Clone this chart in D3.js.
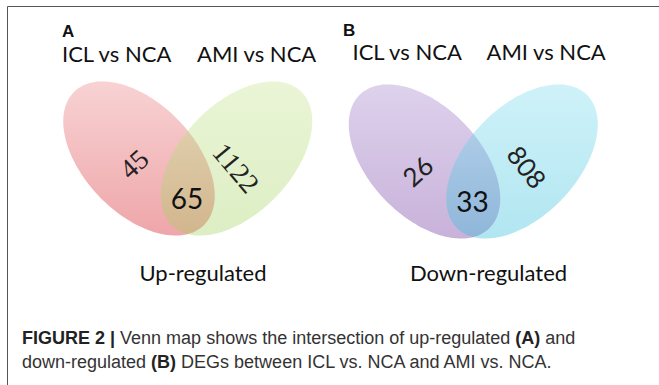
<!DOCTYPE html>
<html>
<head>
<meta charset="utf-8">
<script src="https://cdn.jsdelivr.net/npm/d3@7"></script>
<style>
  html, body { margin: 0; padding: 0; background: #fff; }
  svg { display: block; }
</style>
</head>
<body>
<svg id="fig" width="659" height="385"></svg>
<script>
// Two-set Venn diagrams of DEGs: up-regulated (A) and down-regulated (B)
const panels = ["A", "B"];
const setNames = ["ICL vs NCA", "AMI vs NCA"];
const regulation = ["Up-regulated", "Down-regulated"];
const onlyICL = [45, 26];
const shared = [65, 33];
const onlyAMI = [1122, 808];
// left set: opaque vertical gradient; right set: translucent gradient laid over it
const leftTop = ["#f8d2d3", "#ddd1ec"], leftBottom = ["#eea6a9", "#c8b1d9"];
const rightTop = ["#c4e38c", "#7fdcef"], rightBottom = ["#9fd05a", "#2fbcd9"];
const rightAlpha = [0.36, 0.38];

const svg = d3.select("#fig");
const defs = svg.append("defs");

// panel origin within the figure
const panelX = d3.scaleOrdinal().domain(panels).range([0, 285.5]);
const panelY = d3.scaleOrdinal().domain(panels).range([0, 3]);

// frame: top and left rule
svg.append("line").attr("x1", 7.5).attr("x2", 659).attr("y1", 6.5).attr("y2", 6.5)
  .attr("stroke", "#555").attr("stroke-width", 1);
svg.append("line").attr("x1", 7.5).attr("x2", 7.5).attr("y1", 6.5).attr("y2", 385)
  .attr("stroke", "#555").attr("stroke-width", 1);

// ellipse outline built from its parametric form
const rx = 93, ry = 55, tilt = 46 * Math.PI / 180;
const ellipsePts = (cx, cy, dir) => d3.range(0, 360, 2).map(deg => {
  const t = deg * Math.PI / 180, a = dir * tilt;
  const ex = rx * Math.cos(t), ey = ry * Math.sin(t);
  return [cx + ex * Math.cos(a) - ey * Math.sin(a), cy + ex * Math.sin(a) + ey * Math.cos(a)];
});
const outline = d3.line().curve(d3.curveCardinalClosed);

const labelFont = "Lato, 'Open Sans', sans-serif";

panels.forEach((p, i) => {
  const ox = panelX(p), oy = panelY(p);
  const g = svg.append("g").attr("transform", `translate(${ox},${oy})`);
  const sets = [
    { cx: 139, cy: 158.5, dir: 1, top: leftTop[i], bottom: leftBottom[i], alpha: 1 },
    { cx: 236.5, cy: 158.5, dir: -1, top: rightTop[i], bottom: rightBottom[i], alpha: rightAlpha[i] }
  ];

  sets.forEach((s, j) => {
    const id = `grad-${p}-${j}`;
    const lg = defs.append("linearGradient").attr("id", id)
      .attr("gradientUnits", "userSpaceOnUse")
      .attr("x1", 0).attr("x2", 0).attr("y1", 82 + oy).attr("y2", 236 + oy);
    lg.append("stop").attr("offset", "0%").attr("stop-color", s.top).attr("stop-opacity", s.alpha);
    lg.append("stop").attr("offset", "100%").attr("stop-color", s.bottom).attr("stop-opacity", s.alpha);
    g.append("path")
      .attr("d", outline(ellipsePts(s.cx, s.cy, s.dir)))
      .attr("fill", `url(#${id})`);
  });

  // panel letter
  g.append("text").attr("x", i === 0 ? 62 : 57.5).attr("y", i === 0 ? 37 : 33)
    .attr("font-family", "'Liberation Sans', Arial, sans-serif").attr("font-weight", "bold")
    .attr("font-size", 17).attr("fill", "#111").text(p);
  // set names
  const nameX = i === 0 ? [62, 197] : [67, 201];
  setNames.forEach((s, k) => {
    g.append("text").attr("x", nameX[k]).attr("y", i === 0 ? 62 : 57)
      .attr("font-family", labelFont).attr("font-size", 22).attr("fill", "#111").text(s);
  });
  // region counts
  const countFont = i === 0 ? "'Liberation Serif', serif" : labelFont;
  const leftPos = i === 0 ? [134, 164, -42] : [132, 168, -42];
  const rightPos = i === 0 ? [236, 168, 50] : [241.5, 164, 52];
  g.append("text").attr("transform", `translate(${leftPos[0]},${leftPos[1]}) rotate(${leftPos[2]})`)
    .attr("text-anchor", "middle").attr("dominant-baseline", "central")
    .attr("font-family", countFont).attr("font-size", i === 0 ? 28 : 26).attr("fill", "#222").text(onlyICL[i]);
  g.append("text").attr("transform", `translate(${rightPos[0]},${rightPos[1]}) rotate(${rightPos[2]})`)
    .attr("text-anchor", "middle").attr("dominant-baseline", "central")
    .attr("font-family", countFont).attr("font-size", i === 0 ? 28 : 26).attr("fill", "#222").text(onlyAMI[i]);
  g.append("text").attr("x", 187).attr("y", 198)
    .attr("text-anchor", "middle").attr("dominant-baseline", "central")
    .attr("font-family", labelFont).attr("font-size", 28).attr("fill", "#111").text(shared[i]);
  // regulation direction
  g.append("text").attr("x", 203).attr("y", 281 - oy).attr("text-anchor", "middle")
    .attr("font-family", labelFont).attr("font-size", 22).attr("fill", "#111").text(regulation[i]);
});

// figure caption
const cap = svg.append("text").attr("font-family", "'Liberation Sans', Arial, sans-serif")
  .attr("font-size", 18).attr("fill", "#333");
const l1 = cap.append("tspan").attr("x", 22).attr("y", 344);
l1.append("tspan").attr("font-weight", "bold").attr("fill", "#222").text("FIGURE 2 |");
l1.append("tspan").text(" Venn map shows the intersection of up-regulated ");
l1.append("tspan").attr("font-weight", "bold").attr("fill", "#222").text("(A)");
l1.append("tspan").text(" and");
const l2 = cap.append("tspan").attr("x", 22).attr("y", 368);
l2.append("tspan").text("down-regulated ");
l2.append("tspan").attr("font-weight", "bold").attr("fill", "#222").text("(B)");
l2.append("tspan").text(" DEGs between ICL vs. NCA and AMI vs. NCA.");
</script>
</body>
</html>
